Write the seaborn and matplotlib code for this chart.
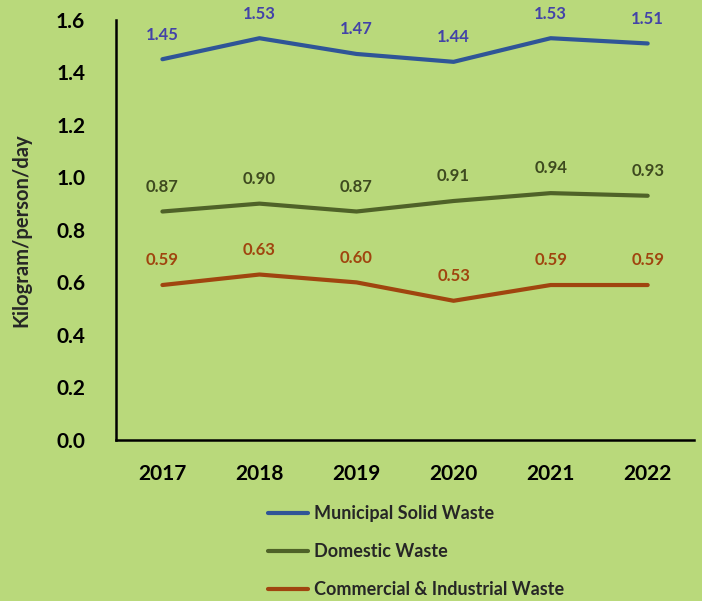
import pandas as pd
import matplotlib.pyplot as plt
import seaborn as sns

# dados
anos = [2017, 2018, 2019, 2020, 2021, 2022]
residuo_municipal = [1.45, 1.53, 1.47, 1.44, 1.53, 1.51]
residuo_domestico = [0.87, 0.90, 0.87, 0.91, 0.94, 0.93]
residuo_comercial = [0.59, 0.63, 0.60, 0.53, 0.59, 0.59]
series = ['Municipal Solid Waste', 'Domestic Waste', 'Commercial & Industrial Waste']
cores_linha = ['#2F5597', '#4F6228', '#A0450F']
cores_rotulo = ['#4343A8', '#3E4A1F', '#A0450F']
yticks = [0.0, 0.2, 0.4, 0.6, 0.8, 1.0, 1.2, 1.4, 1.6]

fundo = '#B9D97B'

df = pd.DataFrame({
    'Ano': anos * 3,
    'Valor': residuo_municipal + residuo_domestico + residuo_comercial,
    'Serie': [s for s in series for _ in anos],
})
df['pos'] = df['Ano'].map({a: i for i, a in enumerate(anos)})

sns.set_theme(style='white')
plt.rcParams['font.family'] = ['Lato', 'DejaVu Sans']
plt.rcParams['font.weight'] = 'bold'

fig = plt.figure(figsize=(7.02, 6.01), dpi=100, facecolor=fundo)
ax = fig.add_axes([0.165, 0.268, 0.824, 0.699])
ax.set_facecolor(fundo)

sns.lineplot(data=df, x='pos', y='Valor', hue='Serie', hue_order=series,
             palette=cores_linha, linewidth=3, ax=ax, legend=False)

# rótulos dos valores
for serie, cor in zip(series, cores_rotulo):
    sub = df[df['Serie'] == serie]
    for x, y in zip(sub['pos'], sub['Valor']):
        ax.annotate(f'{y:.2f}', (x, y), xytext=(0, 12), textcoords='offset points',
                    ha='center', va='bottom', color=cor, fontsize=12, fontweight='bold')

ax.set_xlim(-0.48, len(anos) - 0.52)
ax.set_ylim(0, 1.6)
ax.set_xticks(range(len(anos)))
ax.set_xticklabels([str(a) for a in anos])
ax.set_yticks(yticks)
ax.set_yticklabels([f'{v:.1f}' for v in yticks])
ax.tick_params(axis='both', length=0, labelsize=15, labelcolor='black')
ax.tick_params(axis='x', pad=17)
ax.tick_params(axis='y', pad=22)
for lab in ax.get_xticklabels() + ax.get_yticklabels():
    lab.set_fontweight('bold')

ax.set_xlabel('')
ax.set_ylabel('Kilogram/person/day', fontsize=14.5, fontweight='bold', labelpad=18)

for lado in ['top', 'right']:
    ax.spines[lado].set_visible(False)
for lado in ['left', 'bottom']:
    ax.spines[lado].set_color('black')
    ax.spines[lado].set_linewidth(1.8)

# legenda abaixo do gráfico
handles = [plt.Line2D([], [], color=c, linewidth=3) for c in cores_linha]
leg = fig.legend(handles, series, loc='upper left', bbox_to_anchor=(0.372, 0.171),
                 frameon=False, fontsize=13, handlelength=2.2, handletextpad=0.3,
                 labelspacing=1.15, borderaxespad=0)
for t in leg.get_texts():
    t.set_fontweight('bold')

fig.savefig('out.png', dpi=100, facecolor=fundo)
